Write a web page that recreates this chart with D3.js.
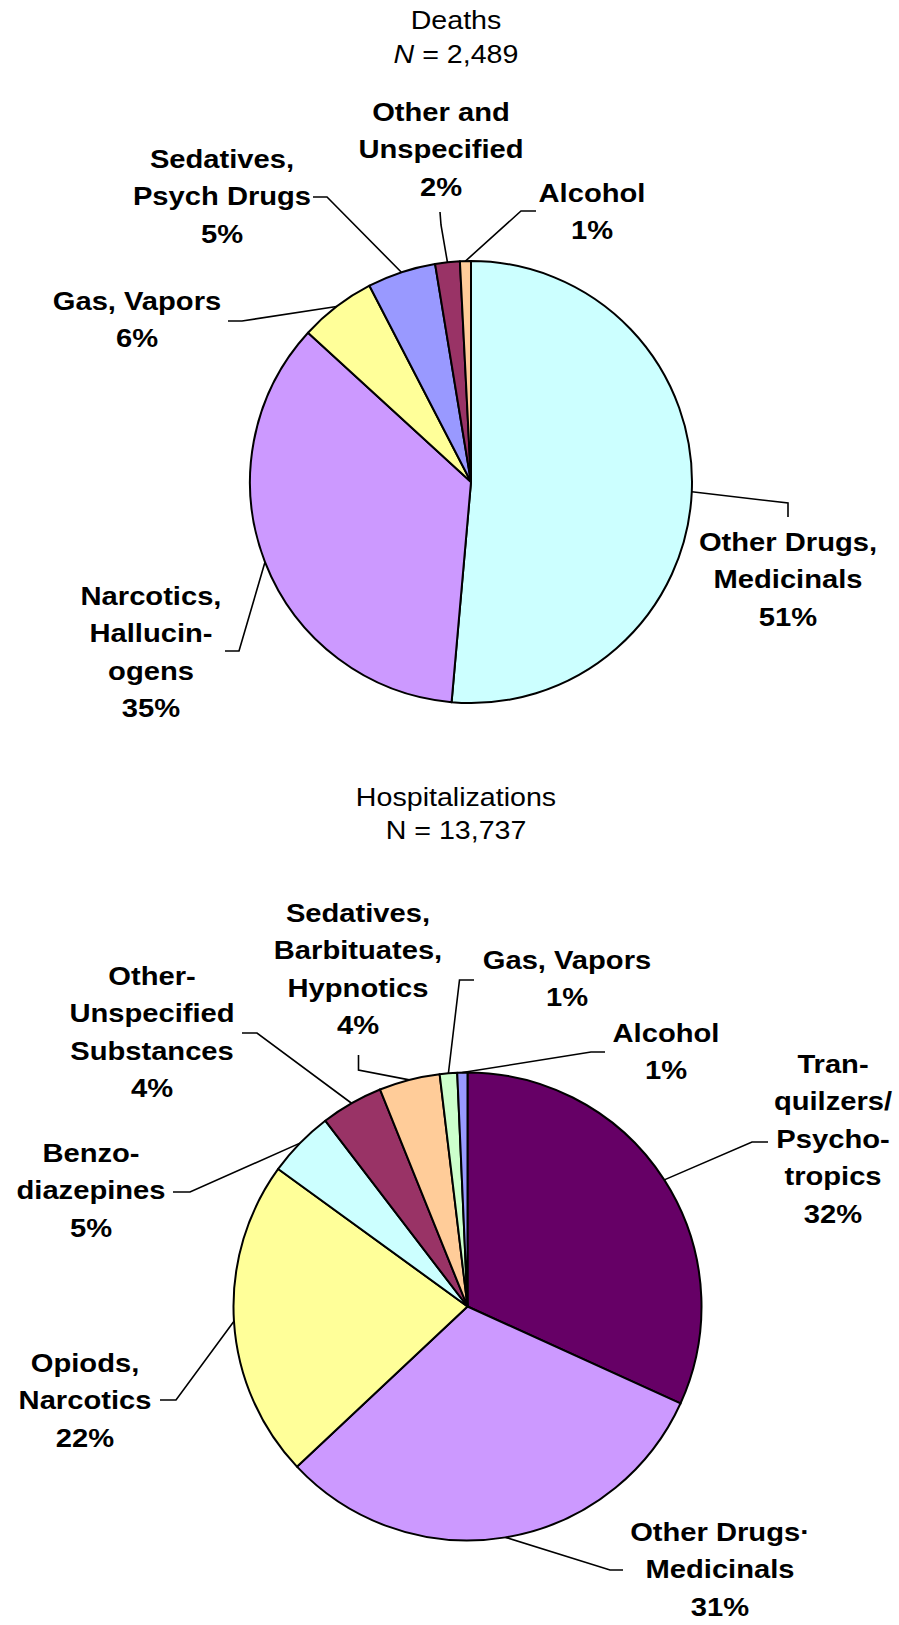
<!DOCTYPE html>
<html>
<head>
<meta charset="utf-8">
<script src="https://cdn.jsdelivr.net/npm/d3@7"></script>
<style>
  html, body { margin: 0; padding: 0; background: #ffffff; }
  svg { display: block; }
  text { font-family: "Liberation Sans", Arial, Helvetica, sans-serif; fill: #000; }
</style>
</head>
<body>
<svg id="chart" width="899" height="1625"></svg>
<script>
// ---------------- DATA ----------------
// Deaths, N = 2,489 (clockwise from 12 o'clock)
const deathCategories = [
  ["Other Drugs,", "Medicinals"],
  ["Narcotics,", "Hallucin-", "ogens"],
  ["Gas, Vapors"],
  ["Sedatives,", "Psych Drugs"],
  ["Other and", "Unspecified"],
  ["Alcohol"]
];
const deathValues = [51.4, 35.4, 5.6, 5.0, 1.8, 0.8];
const deathPctLabels = ["51%", "35%", "6%", "5%", "2%", "1%"];
const deathTitle = ["Deaths", "N = 2,489"];

// Hospitalizations, N = 13,737 (clockwise from 12 o'clock)
const hospCategories = [
  ["Tran-", "quilzers/", "Psycho-", "tropics"],
  ["Other Drugs\u00B7", "Medicinals"],
  ["Opiods,", "Narcotics"],
  ["Benzo-", "diazepines"],
  ["Other-", "Unspecified", "Substances"],
  ["Sedatives,", "Barbituates,", "Hypnotics"],
  ["Gas, Vapors"],
  ["Alcohol"]
];
const hospValues = [31.8, 31.2, 22.0, 4.6, 4.3, 4.2, 1.2, 0.7];
const hospPctLabels = ["32%", "31%", "22%", "5%", "4%", "4%", "1%", "1%"];
const hospTitle = ["Hospitalizations", "N = 13,737"];

// ---------------- STYLE / LAYOUT ----------------
const deathColors = ["#CCFFFF", "#CC99FF", "#FFFF99", "#9999FF", "#993366", "#FFCC99"];
const hospColors  = ["#660066", "#CC99FF", "#FFFF99", "#CCFFFF", "#993366", "#FFCC99", "#CCFFCC", "#9999FF"];

const deathLayout = { cx: 471, cy: 482, r: 221, titleX: 456, titleY: 29, titleGap: 34 };
const hospLayout  = { cx: 467.5, cy: 1306.5, r: 234, titleX: 456, titleY: 806, titleGap: 33 };

// label centre x, first baseline y, leader-line points after the slice anchor
const deathLabelPos = [
  { x: 788, y: 551, leader: [[788, 503], [788, 517]] },
  { x: 151, y: 605, leader: [[239, 651], [225, 651]] },
  { x: 137, y: 310, leader: [[242, 321], [228, 321]] },
  { x: 222, y: 168, leader: [[327, 197], [313, 197]] },
  { x: 441, y: 121, leader: [[441, 225], [440, 212]] },
  { x: 592, y: 202, leader: [[521, 211], [536, 211]] }
];
const hospLabelPos = [
  { x: 833, y: 1073, leader: [[752, 1142], [768, 1142]] },
  { x: 720, y: 1541, leader: [[610, 1570], [623, 1570]] },
  { x: 85,  y: 1372, leader: [[176, 1400], [160, 1400]] },
  { x: 91,  y: 1162, leader: [[190, 1192], [173, 1192]] },
  { x: 152, y: 985,  leader: [[257, 1033], [242, 1033]] },
  { x: 358, y: 922,  leader: [[358.5, 1070], [358.5, 1055]] },
  { x: 567, y: 969,  leader: [[459.5, 980], [474, 980]] },
  { x: 666, y: 1042, leader: [[591, 1052], [605, 1052]] }
];

const LINE_H = 37.5;
const X_STRETCH = 1.1;

const svg = d3.select("#chart");

function drawTitle(lines, L, italicN) {
  const t = svg.append("text")
    .attr("transform", `translate(${L.titleX},${L.titleY}) scale(${X_STRETCH},1)`)
    .attr("text-anchor", "middle")
    .style("font-size", "26px");
  t.append("tspan").attr("x", 0).attr("y", 0).text(lines[0]);
  const second = t.append("tspan").attr("x", 0).attr("y", L.titleGap);
  if (italicN) {
    second.append("tspan").style("font-style", "italic").text("N");
    second.append("tspan").text(lines[1].slice(1));
  } else {
    second.text(lines[1]);
  }
}

function drawPie(values, cats, pcts, colors, L, pos) {
  const pie = d3.pie().sort(null).value(d => d).startAngle(0).endAngle(2 * Math.PI);
  const arcs = pie(values);
  const arc = d3.arc().innerRadius(0).outerRadius(L.r);
  const edge = d3.arc().innerRadius(L.r).outerRadius(L.r);
  const g = svg.append("g").attr("transform", `translate(${L.cx},${L.cy})`);

  g.selectAll("path.slice").data(arcs).enter().append("path")
    .attr("class", "slice")
    .attr("d", arc)
    .attr("fill", (d, i) => colors[i])
    .attr("stroke", "#000")
    .attr("stroke-width", 2)
    .attr("stroke-linejoin", "round");

  // leader lines
  const line = d3.line();
  arcs.forEach((d, i) => {
    const c = edge.centroid(d);
    const pts = [[c[0] + L.cx, c[1] + L.cy]].concat(pos[i].leader);
    svg.append("path")
      .attr("d", line(pts))
      .attr("fill", "none")
      .attr("stroke", "#000")
      .attr("stroke-width", 1.6);
  });

  // labels
  arcs.forEach((d, i) => {
    const lines = cats[i].concat([pcts[i]]);
    const t = svg.append("text")
      .attr("transform", `translate(${pos[i].x},${pos[i].y}) scale(${X_STRETCH},1)`)
      .attr("text-anchor", "middle")
      .style("font-size", "26.5px")
      .style("font-weight", "bold");
    lines.forEach((s, k) => {
      t.append("tspan").attr("x", 0).attr("y", k * LINE_H).text(s);
    });
  });
}

drawTitle(deathTitle, deathLayout, true);
drawPie(deathValues, deathCategories, deathPctLabels, deathColors, deathLayout, deathLabelPos);
drawTitle(hospTitle, hospLayout, false);
drawPie(hospValues, hospCategories, hospPctLabels, hospColors, hospLayout, hospLabelPos);
</script>
</body>
</html>
